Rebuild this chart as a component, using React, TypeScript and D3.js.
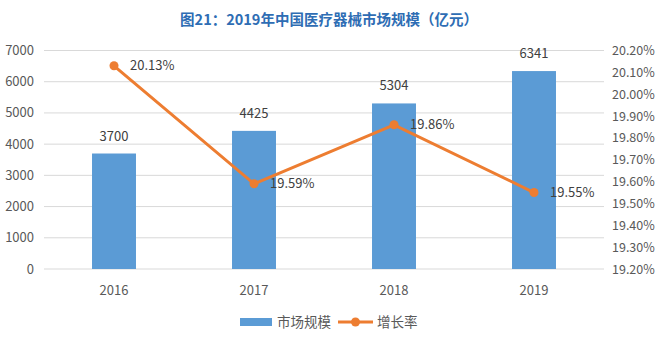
import React from "react";
import * as d3 from "d3";

const years = ["2016", "2017", "2018", "2019"];
const marketSize = [3700, 4425, 5304, 6341];
const growthRate = [20.13, 19.59, 19.86, 19.55];
const leftTicks = [0, 1000, 2000, 3000, 4000, 5000, 6000, 7000];
const rightTicks = [19.2, 19.3, 19.4, 19.5, 19.6, 19.7, 19.8, 19.9, 20.0, 20.1, 20.2];

const W = 666, H = 339;
const left = 44, right = 604, top = 50.5, bottom = 269;
const font = "'Microsoft YaHei','Noto Sans CJK SC','Noto Sans',sans-serif";

export default function App() {
  const x = d3.scaleBand<string>().domain(years).range([left, right]).paddingInner(0.686).paddingOuter(0.343);
  const yL = d3.scaleLinear().domain([0, 7000]).range([bottom, top]);
  const yR = d3.scaleLinear().domain([19.2, 20.2]).range([bottom, top]);
  const cx = (y: string) => (x(y) as number) + x.bandwidth() / 2;
  const line = d3.line<number>().x((_, i) => cx(years[i])).y((d) => yR(d));
  return (
    <svg width={W} height={H} style={{ position: "absolute", left: 0, top: 0, background: "#fff" }}>
      <text x={329} y={25} textAnchor="middle" fontFamily={font} fontWeight="bold" fontSize={14.5} fill="#2e6db4">
        图21：2019年中国医疗器械市场规模（亿元）
      </text>
      {leftTicks.map((t) => (
        <g key={t}>
          <line x1={left} x2={right} y1={yL(t)} y2={yL(t)} stroke="#d9d9d9" strokeWidth={1} />
          <text x={34} y={yL(t) + 4.5} textAnchor="end" fontFamily={font} fontSize={13} fill="#595959">{t}</text>
        </g>
      ))}
      {rightTicks.map((t) => (
        <text key={t} x={612} y={yR(t) + 4.5} fontFamily={font} fontSize={12.5} fill="#595959">{t.toFixed(2)}%</text>
      ))}
      {years.map((yr, i) => (
        <g key={yr}>
          <rect x={x(yr)} y={yL(marketSize[i])} width={x.bandwidth()} height={bottom - yL(marketSize[i])} fill="#5b9bd5" />
          <text x={cx(yr)} y={yL(marketSize[i]) - 13} textAnchor="middle" fontFamily={font} fontSize={13} fill="#404040">{marketSize[i]}</text>
          <text x={cx(yr)} y={295} textAnchor="middle" fontFamily={font} fontSize={13} fill="#595959">{yr}</text>
        </g>
      ))}
      <path d={line(growthRate) || ""} fill="none" stroke="#ed7d31" strokeWidth={3} />
      {years.map((yr, i) => (
        <g key={"p" + yr}>
          <circle cx={cx(yr)} cy={yR(growthRate[i])} r={4.5} fill="#ed7d31" />
          <text x={cx(yr) + 16} y={yR(growthRate[i]) + 4.5} fontFamily={font} fontSize={13} fill="#404040">{growthRate[i].toFixed(2)}%</text>
        </g>
      ))}
      <g>
        <rect x={240} y={318} width={32} height={8} fill="#5b9bd5" />
        <text x={277} y={327} fontFamily={font} fontSize={13.5} fill="#595959">市场规模</text>
        <line x1={338} x2={373} y1={322} y2={322} stroke="#ed7d31" strokeWidth={3} />
        <circle cx={355.5} cy={322} r={4.5} fill="#ed7d31" />
        <text x={377} y={327} fontFamily={font} fontSize={13.5} fill="#595959">增长率</text>
      </g>
    </svg>
  );
}
